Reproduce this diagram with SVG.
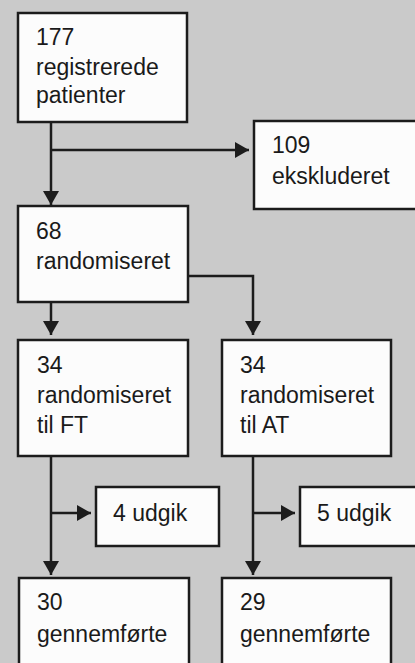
<svg xmlns="http://www.w3.org/2000/svg" width="415" height="663" viewBox="0 0 415 663">
<defs>
<style>
.box{fill:#fcfcfc;stroke:#1c1c1c;stroke-width:2.5}
.t{font-family:"Liberation Sans",Arial,sans-serif;font-size:23px;fill:#1a1a1a}
.c{fill:none;stroke:#1c1c1c;stroke-width:2.5}
</style>
<marker id="ah" markerUnits="userSpaceOnUse" markerWidth="15" markerHeight="16" refX="14" refY="8" orient="auto">
<path d="M0,0 L14,8 L0,16 z" fill="#1c1c1c"/>
</marker>
</defs>
<rect width="415" height="663" fill="#cacaca"/>
<g id="connectors">
<path class="c" d="M51,122 V205" marker-end="url(#ah)"/>
<path class="c" d="M51,150 H249" marker-end="url(#ah)"/>
<path class="c" d="M188,276 H253 V335" marker-end="url(#ah)"/>
<path class="c" d="M51,302 V335" marker-end="url(#ah)"/>
<path class="c" d="M51,456 V575" marker-end="url(#ah)"/>
<path class="c" d="M51,513 H91" marker-end="url(#ah)"/>
<path class="c" d="M253,456 V575" marker-end="url(#ah)"/>
<path class="c" d="M253,513 H295" marker-end="url(#ah)"/>
</g>
<g id="n177">
<rect class="box" x="18" y="13" width="169" height="109"/>
<text class="t" x="36" y="45">177</text>
<text class="t" x="36" y="75">registrerede</text>
<text class="t" x="36" y="103">patienter</text>
</g>
<g id="n109">
<rect class="box" x="254" y="121" width="170" height="88"/>
<text class="t" x="272" y="153">109</text>
<text class="t" x="272" y="184">ekskluderet</text>
</g>
<g id="n68">
<rect class="box" x="18" y="206" width="170" height="96"/>
<text class="t" x="36" y="239">68</text>
<text class="t" x="36" y="269">randomiseret</text>
</g>
<g id="n34ft">
<rect class="box" x="18" y="340" width="170" height="116"/>
<text class="t" x="37" y="373">34</text>
<text class="t" x="37" y="403">randomiseret</text>
<text class="t" x="37" y="433">til FT</text>
</g>
<g id="n34at">
<rect class="box" x="222" y="340" width="169" height="116"/>
<text class="t" x="240" y="373">34</text>
<text class="t" x="240" y="403">randomiseret</text>
<text class="t" x="240" y="433">til AT</text>
</g>
<g id="n4udgik">
<rect class="box" x="96" y="487" width="123" height="59"/>
<text class="t" x="113" y="521">4 udgik</text>
</g>
<g id="n5udgik">
<rect class="box" x="300" y="487" width="124" height="59"/>
<text class="t" x="317" y="521">5 udgik</text>
</g>
<g id="n30">
<rect class="box" x="19" y="578" width="170" height="100"/>
<text class="t" x="37" y="610">30</text>
<text class="t" x="37" y="642">gennemførte</text>
</g>
<g id="n29">
<rect class="box" x="222" y="578" width="169" height="100"/>
<text class="t" x="240" y="610">29</text>
<text class="t" x="240" y="642">gennemførte</text>
</g>
</svg>
